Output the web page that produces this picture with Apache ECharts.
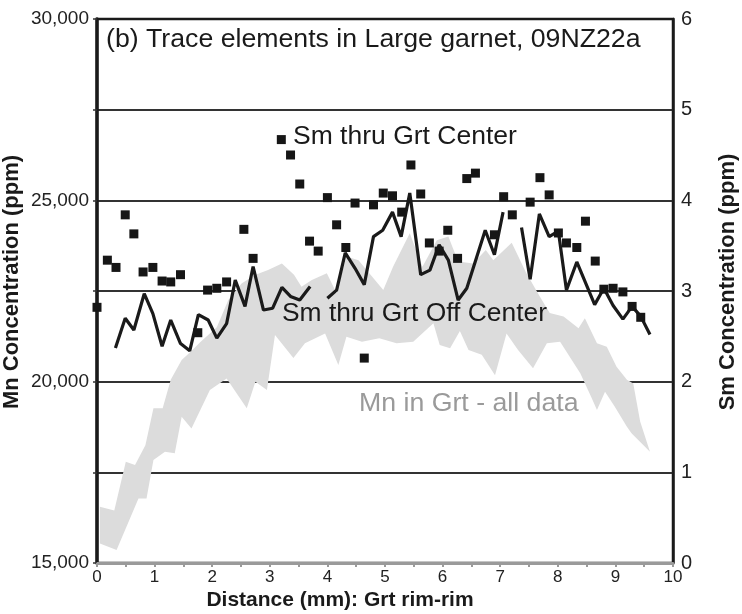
<!DOCTYPE html>
<html><head><meta charset="utf-8">
<script src="https://cdn.jsdelivr.net/npm/echarts@6/dist/echarts.min.js"></script>
<style>html,body{margin:0;padding:0;background:#fff}#c{width:742px;height:614px}</style>
</head><body><div id="c"></div>
<script>
// Sm thru Grt Center (squares), Sm ppm
const centerX  = [0.00,0.18,0.33,0.49,0.64,0.80,0.97,1.13,1.28,1.45,1.75,1.92,2.08,2.25,2.55,2.71,3.20,3.36,3.52,3.69,3.84,4.00,4.16,4.32,4.48,4.64,4.80,4.97,5.13,5.29,5.45,5.62,5.77,5.94,6.09,6.26,6.42,6.57,6.90,7.06,7.21,7.52,7.69,7.85,8.01,8.15,8.33,8.48,8.65,8.80,8.96,9.13,9.29,9.44];
const centerSm = [2.82,3.34,3.26,3.84,3.63,3.21,3.26,3.11,3.10,3.18,2.54,3.01,3.03,3.10,3.68,3.36,4.67,4.50,4.18,3.55,3.44,4.03,3.73,3.48,3.97,2.26,3.95,4.08,4.05,3.87,4.39,4.07,3.53,3.44,3.67,3.36,4.24,4.30,3.62,4.04,3.84,3.98,4.25,4.06,3.64,3.53,3.48,3.77,3.33,3.02,3.03,2.99,2.83,2.71];

// Sm thru Grt Off Center (line, three segments), Sm ppm
const off1X  = [0.32,0.49,0.64,0.82,0.97,1.13,1.28,1.45,1.61,1.76,1.93,2.08,2.25,2.40,2.57,2.71,2.89,3.05,3.21,3.36,3.52,3.70];
const off1Sm = [2.37,2.70,2.57,2.97,2.75,2.39,2.68,2.42,2.34,2.74,2.68,2.48,2.64,3.12,2.83,3.27,2.79,2.81,3.04,2.94,2.90,3.05];
const off2X  = [4.00,4.16,4.31,4.48,4.64,4.80,4.96,5.13,5.28,5.43,5.62,5.78,5.94,6.10,6.27,6.42,6.74,6.90,7.05];
const off2Sm = [2.92,3.01,3.42,3.25,3.07,3.60,3.67,3.87,3.60,4.08,3.18,3.23,3.51,3.34,2.90,3.03,3.67,3.40,3.87];
const off3X  = [7.37,7.52,7.68,7.85,8.01,8.15,8.33,8.64,8.80,8.96,9.13,9.29,9.44,9.60];
const off3Sm = [3.70,3.13,3.85,3.60,3.66,3.01,3.32,2.85,3.03,2.84,2.69,2.83,2.72,2.52];

// Mn in Grt - all data (grey envelope), Mn ppm
const bandUpperX  = [0.05,0.30,0.50,0.66,0.84,0.98,1.14,1.28,1.47,1.63,1.80,2.08,2.28,2.51,2.74,2.97,3.21,3.42,3.55,3.73,3.99,4.16,4.33,4.54,4.68,4.97,5.14,5.43,5.65,5.90,6.10,6.27,6.53,6.75,6.88,7.20,7.45,7.69,7.86,8.10,8.36,8.47,8.68,8.85,9.02,9.20,9.31,9.43,9.60];
const bandUpperMn = [16550,16450,17790,17700,18250,19270,19270,20050,20600,20830,21100,21500,22250,22710,22940,23080,23260,22950,22620,22800,22990,22440,23450,23350,23080,22530,23170,24090,23170,23900,24000,23310,23260,23630,23350,23830,23000,22340,21890,21800,21470,21750,21060,20960,20410,20050,19950,18900,18070];
const bandLowerX  = [0.05,0.34,0.72,0.86,0.98,1.18,1.35,1.47,1.64,1.96,2.25,2.60,2.75,2.95,3.09,3.41,3.61,3.96,4.19,4.33,4.60,4.90,5.20,5.49,5.84,5.95,6.13,6.30,6.45,6.68,6.91,7.11,7.31,7.57,7.81,8.04,8.39,8.59,8.68,8.82,8.99,9.20,9.28,9.60];
const bandLowerMn = [15540,15360,16780,16780,17840,18070,18025,19030,18710,19770,20090,19270,20000,19770,21290,20650,21060,21330,20460,21240,21100,21200,21060,21100,21610,21010,20920,21400,20870,20740,20180,21330,20870,20370,21060,21100,20230,19540,19220,19720,19310,18760,18580,18070];

// Tick labels
const mnTickLabels = ['15,000','20,000','25,000','30,000'];
const smTickLabels = ['0','1','2','3','4','5','6'];
const xTickLabels  = ['0','1','2','3','4','5','6','7','8','9','10'];

const FONT = "'Liberation Sans', Arial, Helvetica, sans-serif";
const chart = echarts.init(document.getElementById('c'), null, {renderer:'canvas'});

function pairs(xs, ys){ return xs.map((x,i)=>[x, ys[i]]); }
const lineStyle = {color:'#1a1a1a', width:3.2};

chart.setOption({
  animation:false,
  backgroundColor:'#fff',
  grid:{left:97, right:69, top:19, bottom:51, show:true, borderColor:'#1a1a1a', borderWidth:2.5, backgroundColor:'transparent'},
  xAxis:{
    type:'value', min:0, max:10, interval:0.5,
    axisLine:{show:true, lineStyle:{color:'#9a9a9a', width:3}},
    axisTick:{show:true, length:4, lineStyle:{color:'#9a9a9a', width:2}},
    axisLabel:{fontFamily:FONT, fontSize:17, color:'#222', margin:6,
      formatter:v => (Math.abs(v-Math.round(v))<1e-6 ? xTickLabels[Math.round(v)] : '')},
    splitLine:{show:false}
  },
  yAxis:[{
    type:'value', min:15000, max:30000, interval:2500, position:'left',
    axisLine:{show:true, lineStyle:{color:'#1a1a1a', width:3.5}},
    axisTick:{show:true, length:4, lineStyle:{color:'#333', width:1.5}},
    axisLabel:{fontFamily:FONT, fontSize:19, color:'#222', margin:8,
      formatter:v => ((v-15000)%5000===0 ? mnTickLabels[(v-15000)/5000] : '')},
    splitLine:{show:true, showMinLine:false, showMaxLine:false, lineStyle:{color:'#333', width:2}}
  },{
    type:'value', min:0, max:6, interval:1, position:'right',
    axisLine:{show:true, lineStyle:{color:'#1a1a1a', width:2.5}},
    axisTick:{show:false},
    axisLabel:{fontFamily:FONT, fontSize:20, color:'#222', margin:8,
      formatter:v => smTickLabels[Math.round(v)]},
    splitLine:{show:false}
  }],
  series:[
    {
      type:'custom', name:'Mn in Grt - all data', yAxisIndex:0, z:1, silent:true,
      data:[[bandUpperX[0], bandUpperMn[0]]],
      encode:{x:0, y:1},
      renderItem:function(params, api){
        const pts = [];
        for (let i=0;i<bandUpperX.length;i++) pts.push(api.coord([bandUpperX[i], bandUpperMn[i]]));
        for (let i=bandLowerX.length-1;i>=0;i--) pts.push(api.coord([bandLowerX[i], bandLowerMn[i]]));
        return {type:'polygon', shape:{points:pts}, style:{fill:'#dcdcdc', stroke:null}};
      }
    },
    {type:'line', yAxisIndex:1, z:3, showSymbol:false, data:pairs(off1X, off1Sm), lineStyle:lineStyle},
    {type:'line', yAxisIndex:1, z:3, showSymbol:false, data:pairs(off2X, off2Sm), lineStyle:lineStyle},
    {type:'line', yAxisIndex:1, z:3, showSymbol:false, data:pairs(off3X, off3Sm), lineStyle:lineStyle},
    {type:'scatter', yAxisIndex:1, z:4, symbol:'rect', symbolSize:9, itemStyle:{color:'#161616', opacity:1}, data:pairs(centerX, centerSm)}
  ],
  graphic:[
    {type:'text', x:106, y:40, z:10, style:{text:'(b) Trace elements in Large garnet, 09NZ22a', fontFamily:FONT, fontSize:26.7, fill:'#1a1a1a', textVerticalAlign:'middle'}},
    {type:'text', x:293, y:137, z:10, style:{text:'Sm thru Grt Center', fontFamily:FONT, fontSize:26.5, fill:'#1a1a1a', textVerticalAlign:'middle'}},
    {type:'text', x:282, y:314, z:10, style:{text:'Sm thru Grt Off Center', fontFamily:FONT, fontSize:26.4, fill:'#1a1a1a', textVerticalAlign:'middle'}},
    {type:'text', x:359, y:404, z:10, style:{text:'Mn in Grt - all data', fontFamily:FONT, fontSize:26.7, fill:'#9a9a9a', textVerticalAlign:'middle'}},
    {type:'text', x:340, y:600, z:10, style:{text:'Distance (mm): Grt rim-rim', fontFamily:FONT, fontSize:21, fontWeight:'bold', fill:'#1a1a1a', textAlign:'center', textVerticalAlign:'middle'}},
    {type:'text', x:12, y:282, rotation:Math.PI/2, z:10, style:{text:'Mn Concentration (ppm)', fontFamily:FONT, fontSize:22, fontWeight:'bold', fill:'#1a1a1a', textAlign:'center', textVerticalAlign:'middle'}},
    {type:'text', x:728, y:282, rotation:Math.PI/2, z:10, style:{text:'Sm Concentration (ppm)', fontFamily:FONT, fontSize:22, fontWeight:'bold', fill:'#1a1a1a', textAlign:'center', textVerticalAlign:'middle'}}
  ]
});
</script>
</body></html>
